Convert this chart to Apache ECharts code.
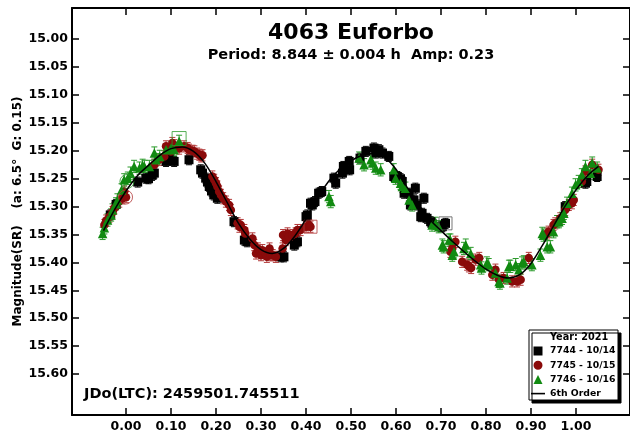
<!DOCTYPE html>
<html>
<head>
<meta charset="utf-8">
<script src="https://cdn.jsdelivr.net/npm/echarts@6/dist/echarts.min.js"></script>
<style>html,body{margin:0;padding:0;background:#fff}#c{width:630px;height:436px}</style>
</head>
<body>
<div id="c"></div>
<script>
// ---- Data (phase, magnitude) ----
var seriesNames = ['7744 - 10/14', '7745 - 10/15', '7746 - 10/16'];
var fitName = '6th Order';
var xTickValues = [0.00, 0.10, 0.20, 0.30, 0.40, 0.50, 0.60, 0.70, 0.80, 0.90, 1.00];
var yTickValues = [15.00, 15.05, 15.10, 15.15, 15.20, 15.25, 15.30, 15.35, 15.40, 15.45, 15.50, 15.55, 15.60];

var black7744 = [
  [-0.035,15.315],[-0.022,15.296],[0.026,15.256],[0.044,15.249],[0.050,15.250],[0.058,15.244],[0.063,15.240],
  [0.089,15.219],[0.096,15.215],[0.107,15.219],[0.140,15.216],[0.166,15.234],
  [0.170,15.240],[0.177,15.249],[0.181,15.256],[0.185,15.264],[0.190,15.272],[0.195,15.279],[0.203,15.285],
  [0.240,15.327],[0.263,15.360],[0.269,15.363],[0.344,15.390],[0.351,15.390],[0.374,15.369],[0.381,15.363],
  [0.400,15.318],[0.403,15.315],[0.410,15.294],[0.414,15.297],[0.420,15.291],[0.428,15.276],[0.435,15.273],
  [0.462,15.249],[0.466,15.258],[0.481,15.240],[0.483,15.228],[0.496,15.219],[0.497,15.234],[0.520,15.213],
  [0.533,15.201],[0.551,15.195],[0.555,15.204],[0.562,15.198],[0.570,15.204],[0.584,15.210],[0.595,15.246],
  [0.603,15.246],[0.610,15.250],[0.614,15.255],[0.618,15.276],[0.629,15.276],[0.632,15.297],[0.640,15.288],
  [0.643,15.267],[0.647,15.297],[0.655,15.318],[0.658,15.312],[0.662,15.285],[0.669,15.321],[0.677,15.327],
  [0.680,15.330],[0.699,15.336],[0.703,15.336],[0.710,15.330],
  [0.976,15.300],[1.021,15.258],[1.024,15.255],[1.047,15.246]
];
var red7745 = [
  [-0.048,15.333],[-0.044,15.325],[-0.037,15.318],[-0.030,15.310],[-0.026,15.303],[-0.015,15.291],[-0.008,15.285],
  [0.000,15.283],[-0.004,15.273],
  [0.063,15.225],[0.074,15.216],[0.085,15.210],[0.089,15.192],[0.100,15.201],[0.103,15.186],[0.107,15.190],
  [0.118,15.196],[0.129,15.192],[0.137,15.195],[0.140,15.198],[0.148,15.200],[0.152,15.201],[0.158,15.205],
  [0.163,15.207],[0.167,15.210],[0.170,15.208],
  [0.192,15.246],[0.196,15.252],[0.200,15.258],[0.203,15.264],[0.207,15.273],[0.211,15.279],[0.216,15.285],
  [0.222,15.291],[0.229,15.297],[0.233,15.306],[0.248,15.330],[0.252,15.336],[0.255,15.333],[0.263,15.342],
  [0.265,15.348],[0.281,15.357],[0.285,15.369],[0.289,15.384],[0.293,15.375],[0.300,15.387],[0.303,15.378],
  [0.311,15.384],[0.313,15.390],[0.319,15.375],[0.322,15.387],[0.326,15.387],[0.333,15.390],[0.348,15.375],
  [0.349,15.351],[0.355,15.360],[0.359,15.348],[0.362,15.354],[0.370,15.351],[0.377,15.348],[0.381,15.342],
  [0.388,15.342],[0.400,15.336],[0.407,15.333],[0.410,15.336],
  [0.721,15.381],[0.725,15.375],[0.732,15.363],[0.747,15.399],[0.758,15.404],[0.762,15.407],[0.767,15.410],
  [0.777,15.395],[0.785,15.392],[0.814,15.422],[0.821,15.413],[0.829,15.431],[0.839,15.428],[0.858,15.434],
  [0.869,15.434],[0.877,15.431],[0.895,15.392],[0.936,15.348],[0.939,15.345],[0.950,15.333],[0.954,15.330],
  [0.965,15.321],[0.976,15.306],[0.984,15.297],[0.991,15.294],[0.995,15.288],[1.013,15.255],[1.021,15.237],
  [1.036,15.225],[1.050,15.234]
];
var green7746 = [
  [-0.052,15.348],[-0.048,15.338],[-0.041,15.324],[-0.033,15.315],[-0.030,15.306],[-0.022,15.295],[-0.019,15.288],
  [-0.010,15.270],[-0.004,15.252],[0.004,15.249],[0.010,15.240],[0.018,15.228],[0.030,15.231],[0.037,15.226],
  [0.041,15.228],[0.052,15.228],[0.063,15.204],[0.067,15.216],[0.075,15.210],[0.089,15.198],[0.100,15.195],
  [0.107,15.198],[0.118,15.183],
  [0.451,15.282],[0.455,15.291],[0.518,15.213],[0.529,15.225],[0.544,15.216],[0.548,15.222],[0.555,15.231],
  [0.566,15.234],[0.595,15.234],[0.599,15.249],[0.610,15.258],[0.614,15.264],[0.621,15.267],[0.629,15.288],
  [0.636,15.297],[0.680,15.333],[0.688,15.330],[0.695,15.336],[0.703,15.369],[0.706,15.372],[0.718,15.360],
  [0.721,15.360],[0.725,15.387],[0.729,15.381],[0.751,15.375],[0.755,15.369],[0.766,15.384],[0.788,15.404],
  [0.790,15.410],[0.802,15.401],[0.806,15.404],[0.821,15.419],[0.829,15.434],[0.831,15.437],[0.847,15.428],
  [0.851,15.407],[0.854,15.407],[0.866,15.404],[0.873,15.413],[0.880,15.401],[0.884,15.399],[0.902,15.404],
  [0.921,15.387],[0.925,15.348],[0.928,15.351],[0.936,15.372],[0.943,15.372],[0.950,15.345],[0.958,15.327],
  [0.962,15.327],[0.969,15.321],[0.973,15.312],[0.980,15.294],[0.991,15.276],[0.999,15.261],[1.006,15.255],
  [1.013,15.243],[1.021,15.228],[1.032,15.240],[1.036,15.222],[1.047,15.231]
];
// highlighted (open) points
var flaggedBlack = [[0.710,15.330]];
var flaggedRed = [[0.410,15.336]];
var flaggedRedCircle = [[-0.001,15.283]];
var flaggedGreen = [[0.118,15.178]];
var flaggedGreenCircle = [[0.002,15.255]];
// error bar half-lengths (mag)
var errBlack = 0.009, errRed = 0.010, errGreen = 0.011;
// fitted curve (6th order)
var fitPhase = [-0.05,-0.025,0,0.025,0.05,0.075,0.1,0.125,0.15,0.175,0.2,0.225,0.25,0.275,0.3,0.325,0.35,0.375,0.4,0.425,0.45,0.475,0.5,0.525,0.55,0.575,0.6,0.625,0.65,0.675,0.7,0.725,0.75,0.775,0.8,0.825,0.85,0.875,0.9,0.925,0.95,0.975,1.0,1.025,1.05];
var fitMag = [15.343,15.305,15.272,15.245,15.226,15.208,15.196,15.193,15.201,15.222,15.255,15.293,15.330,15.358,15.377,15.384,15.375,15.353,15.322,15.285,15.255,15.233,15.218,15.208,15.205,15.212,15.233,15.266,15.296,15.323,15.343,15.362,15.380,15.397,15.412,15.423,15.428,15.422,15.402,15.370,15.335,15.300,15.270,15.245,15.228];

var titleText = '4063 Euforbo';
var subText = 'Period: 8.844 \u00b1 0.004 h  Amp: 0.23';
var yName = 'Magnitude(SR)    (a: 6.5\u00b0  G: 0.15)';
var jdText = 'JDo(LTC): 2459501.745511';
var legendTitle = 'Year: 2021';

// ---- Build ----
var FONT = 'DejaVu Sans';
var cBlack = '#000000', cRed = '#8a0a0a', cGreen = '#118a11';
var eBlack = '#000000', eRed = '#b33a3a', eGreen = '#2a9a2a';

function errData(pts, e){ return pts.map(function(p){ return [p[0], p[1]-e, p[1]+e]; }); }
function errRender(color){
  return function(params, api){
    var x = api.value(0);
    var a = api.coord([x, api.value(1)]);
    var b = api.coord([x, api.value(2)]);
    var hw = 3;
    var st = {stroke: color, lineWidth: 1};
    return {type:'group', children:[
      {type:'line', shape:{x1:a[0], y1:a[1], x2:b[0], y2:b[1]}, style:st},
      {type:'line', shape:{x1:a[0]-hw, y1:a[1], x2:a[0]+hw, y2:a[1]}, style:st},
      {type:'line', shape:{x1:b[0]-hw, y1:b[1], x2:b[0]+hw, y2:b[1]}, style:st}
    ]};
  };
}
function errSeries(pts, e, color){
  return {type:'custom', renderItem: errRender(color), data: errData(pts, e), encode:{x:0, y:[1,2]}, z:1, silent:true};
}
var fitData = fitPhase.map(function(p,i){ return [p, fitMag[i]]; });

var axisLineStyle = {color:'#000', width:2};
var tickStyle = {color:'#000', width:1.5};
var labelStyle = {color:'#000', fontFamily:FONT, fontWeight:'bold', fontSize:12.5};

var chart = echarts.init(document.getElementById('c'), null, {renderer:'canvas'});
chart.setOption({
  animation:false,
  backgroundColor:'#fff',
  title:[
    {text:titleText, left:351, top:22, textAlign:'center', padding:0,
     textStyle:{fontFamily:FONT, fontWeight:'bold', fontSize:22, color:'#000'}},
    {text:subText, left:351, top:48, textAlign:'center', padding:0,
     textStyle:{fontFamily:FONT, fontWeight:'bold', fontSize:14.5, color:'#000'}}
  ],
  grid:{left:72, top:8, width:559, height:407, containLabel:false},
  xAxis:[
    {type:'value', min:-0.12, max:1.12, position:'bottom',
     axisLine:{show:true, onZero:false, lineStyle:axisLineStyle},
     axisTick:{show:true, inside:true, length:7, customValues:xTickValues, lineStyle:tickStyle},
     axisLabel:Object.assign({customValues:xTickValues, margin:5, formatter:function(v){return v.toFixed(2);}}, labelStyle),
     splitLine:{show:false}},
    {type:'value', min:-0.12, max:1.12, position:'top',
     axisLine:{show:true, onZero:false, lineStyle:axisLineStyle},
     axisTick:{show:true, inside:true, length:7, customValues:xTickValues, lineStyle:tickStyle},
     axisLabel:{show:false}, splitLine:{show:false}}
  ],
  yAxis:[
    {type:'value', inverse:true, min:14.944, max:15.6735, position:'left',
     name:yName, nameLocation:'middle', nameGap:48, nameMoveOverlap:false,
     nameTextStyle:{fontFamily:FONT, fontWeight:'bold', fontSize:12, color:'#000'},
     axisLine:{show:true, onZero:false, lineStyle:axisLineStyle},
     axisTick:{show:true, inside:true, length:7, customValues:yTickValues, lineStyle:tickStyle},
     axisLabel:Object.assign({customValues:yTickValues, margin:4, formatter:function(v){return v.toFixed(2);}}, labelStyle),
     splitLine:{show:false}},
    {type:'value', inverse:true, min:14.944, max:15.6735, position:'right',
     axisLine:{show:true, onZero:false, lineStyle:axisLineStyle},
     axisTick:{show:true, inside:true, length:7, customValues:yTickValues, lineStyle:tickStyle},
     axisLabel:{show:false}, splitLine:{show:false}}
  ],
  legend:{
    orient:'vertical', left:531, top:345, padding:0, itemGap:2.2,
    itemWidth:14, itemHeight:9, symbolKeepAspect:true, selectedMode:false,
    textStyle:{fontFamily:FONT, fontWeight:'bold', fontSize:9.3, color:'#000', lineHeight:12},
    data:[
      {name:seriesNames[0], icon:'path://M0,0h8v8h-8z'},
      {name:seriesNames[1], icon:'path://M4,0A4,4,0,1,1,3.99,0z'},
      {name:seriesNames[2], icon:'path://M4,0L8,8L0,8z'},
      {name:fitName, icon:'path://M0,0h14v1.6h-14z', itemStyle:{color:'#000'}}
    ]
  },
  graphic:[
    {type:'rect', z:3, shape:{x:529, y:330, width:89, height:70},
     style:{fill:'#fff', stroke:'#000', lineWidth:1, shadowColor:'#000', shadowOffsetX:3, shadowOffsetY:3, shadowBlur:0}},
    {type:'text', z:5, x:550, y:337.5, style:{text:legendTitle, fill:'#000', font:'bold 9.7px "DejaVu Sans"', textVerticalAlign:'middle'}},
    {type:'text', z:5, x:84, y:394, style:{text:jdText, fill:'#000', font:'bold 14.5px "DejaVu Sans"', textVerticalAlign:'middle'}}
  ],
  series:[
    errSeries(black7744, errBlack, eBlack),
    errSeries(red7745, errRed, eRed),
    errSeries(green7746, errGreen, eGreen),
    {name:seriesNames[0], type:'scatter', data:black7744, symbol:'rect', symbolSize:9, z:3,
     itemStyle:{color:cBlack, opacity:1}},
    {name:seriesNames[1], type:'scatter', data:red7745, symbol:'circle', symbolSize:8.5, z:3,
     itemStyle:{color:cRed, opacity:1}},
    {name:seriesNames[2], type:'scatter', data:green7746, symbol:'triangle', symbolSize:9.5, z:3,
     itemStyle:{color:cGreen, opacity:1}},
    {type:'scatter', data:flaggedBlack, symbol:'rect', symbolSize:13, z:4, silent:true,
     itemStyle:{color:'rgba(0,0,0,0)', borderColor:'#555', borderWidth:1}},
    {type:'scatter', data:flaggedRed, symbol:'rect', symbolSize:13, z:4, silent:true,
     itemStyle:{color:'rgba(0,0,0,0)', borderColor:eRed, borderWidth:1}},
    {type:'scatter', data:flaggedRedCircle, symbol:'circle', symbolSize:14, z:4, silent:true,
     itemStyle:{color:'rgba(0,0,0,0)', borderColor:eRed, borderWidth:1}},
    {type:'scatter', data:flaggedGreen, symbol:'rect', symbolSize:14, z:4, silent:true,
     itemStyle:{color:'rgba(0,0,0,0)', borderColor:eGreen, borderWidth:1}},
    {type:'scatter', data:flaggedGreenCircle, symbol:'circle', symbolSize:14, z:4, silent:true,
     itemStyle:{color:'rgba(0,0,0,0)', borderColor:eGreen, borderWidth:1}},
    {name:fitName, type:'line', data:fitData, smooth:0.3, symbol:'none', showSymbol:false, z:5,
     lineStyle:{color:'#000', width:1.5}, itemStyle:{color:'#000'}}
  ]
});
</script>
</body>
</html>
